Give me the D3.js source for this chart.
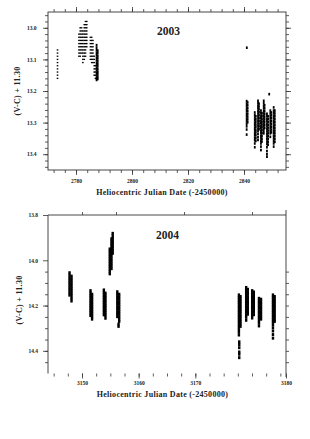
<!DOCTYPE html>
<html>
<head>
<meta charset="utf-8">
<script src="https://cdn.jsdelivr.net/npm/d3@7"></script>
<style>
body { margin: 0; background: #fff; }
svg text { font-family: "Liberation Serif", "DejaVu Serif", serif; font-weight: bold; fill: #222; }
</style>
</head>
<body>
<div id="chart"></div>
<script>
// Ticks__________________________________________________________________
const yMajor2003 = [13.0, 13.1, 13.2, 13.3, 13.4];
const xMajor2003 = [2780, 2800, 2820, 2840];
const yMajor2004 = [13.8, 14.0, 14.2, 14.4];
const xMajor2004 = [3150, 3160, 3170, 3186];
const xLabels2004 = ['3150', '3160', '3170', '3180'];
const xTop2004 = [3150, 3156, 3168, 3180];

// Data: [HJD - 2450000, [(V-C) + 11.30, ...]] one column per group of points
// quantised (0.01 mag) nights, drawn as small dots
const dots2003 = [
  [2773.4, [13.07, 13.08, 13.09, 13.10, 13.11, 13.12, 13.13, 13.14, 13.15, 13.16]],
  [2781.05, [13.02, 13.03, 13.04, 13.05, 13.06, 13.07, 13.08, 13.09]],
  [2781.5, [13.00, 13.01, 13.02, 13.03, 13.04, 13.05, 13.06, 13.07, 13.08, 13.09]],
  [2782.0, [13.00, 13.01, 13.02, 13.03, 13.04, 13.05, 13.06, 13.07, 13.08]],
  [2782.45, [13.01, 13.02, 13.03, 13.04, 13.05, 13.06, 13.07, 13.08, 13.09, 13.10, 13.11]],
  [2782.95, [12.99, 13.00, 13.01, 13.02, 13.03, 13.04, 13.05, 13.06, 13.07, 13.08, 13.09, 13.10]],
  [2783.4, [12.98, 12.99, 13.00, 13.01, 13.02, 13.03, 13.04, 13.05, 13.06, 13.07, 13.08, 13.09]],
  [2783.85, [12.98, 12.99, 13.00, 13.01, 13.02, 13.03, 13.04, 13.05, 13.06]],
  [2785.15, [13.03, 13.04, 13.05, 13.06, 13.07, 13.08, 13.09, 13.10]],
  [2785.6, [13.03, 13.04, 13.05, 13.06, 13.07, 13.08, 13.09, 13.10, 13.11]],
  [2786.05, [13.04, 13.05, 13.06, 13.07, 13.08, 13.09, 13.10, 13.11]],
  [2786.5, [13.09, 13.10, 13.11, 13.12, 13.13, 13.14, 13.15]],
  [2786.95, [13.12, 13.13, 13.14, 13.15, 13.16]]
];
// densely sampled nights
const dense2003 = [
  [2787.35, [13.055, 13.063, 13.071, 13.079, 13.087, 13.095, 13.103, 13.111, 13.119, 13.127, 13.135, 13.143, 13.151, 13.159, 13.165]],
  [2787.75, [13.072, 13.080, 13.089, 13.097, 13.106, 13.114, 13.122, 13.131, 13.139, 13.147, 13.155, 13.162]],
  [2841.0, [13.063]],
  [2840.95, [13.232, 13.240, 13.248, 13.256, 13.264, 13.272, 13.280, 13.288, 13.296, 13.304, 13.312, 13.322, 13.338]],
  [2841.3, [13.236, 13.245, 13.254, 13.263, 13.272, 13.281, 13.290, 13.299]],
  [2843.85, [13.268, 13.276, 13.284, 13.292, 13.300, 13.308, 13.316, 13.324, 13.332, 13.340, 13.348, 13.356, 13.366, 13.378]],
  [2844.2, [13.280, 13.289, 13.297, 13.306, 13.314, 13.323, 13.331, 13.340, 13.349, 13.358]],
  [2845.0, [13.231, 13.239, 13.247, 13.255, 13.263, 13.271, 13.279, 13.287, 13.295, 13.303, 13.311, 13.319, 13.327, 13.336, 13.346, 13.355]],
  [2845.35, [13.240, 13.249, 13.258, 13.267, 13.276, 13.285, 13.294, 13.303, 13.312, 13.321]],
  [2846.05, [13.262, 13.270, 13.278, 13.286, 13.294, 13.302, 13.310, 13.318, 13.326, 13.334, 13.342, 13.350, 13.358, 13.366, 13.376, 13.387]],
  [2846.4, [13.270, 13.279, 13.288, 13.297, 13.306, 13.315, 13.324, 13.333, 13.342, 13.351, 13.360]],
  [2847.05, [13.231, 13.239, 13.247, 13.255, 13.263, 13.271, 13.279, 13.287, 13.295, 13.303, 13.311, 13.319, 13.327, 13.334]],
  [2847.35, [13.245, 13.254, 13.263, 13.272, 13.281, 13.290, 13.299, 13.308, 13.317]],
  [2848.2, [13.272, 13.280, 13.288, 13.296, 13.304, 13.312, 13.320, 13.328, 13.336, 13.344, 13.352, 13.360, 13.368, 13.378, 13.390, 13.400, 13.408]],
  [2848.6, [13.280, 13.289, 13.298, 13.307, 13.316, 13.325, 13.334, 13.343, 13.352, 13.361, 13.370]],
  [2849.0, [13.21]],
  [2849.4, [13.262, 13.270, 13.278, 13.286, 13.294, 13.302, 13.310, 13.318, 13.326, 13.334, 13.345]],
  [2849.75, [13.268, 13.277, 13.286, 13.295, 13.304, 13.313, 13.322, 13.331]],
  [2850.6, [13.252, 13.262, 13.270, 13.278, 13.286, 13.294, 13.302, 13.310, 13.318, 13.326, 13.334, 13.342, 13.350, 13.358, 13.366, 13.376]],
  [2851.0, [13.262, 13.271, 13.280, 13.289, 13.298, 13.307, 13.316, 13.325, 13.334, 13.343, 13.352, 13.361]]
];
const dense2004 = [
  [3147.8, [14.055, 14.066, 14.077, 14.088, 14.099, 14.110, 14.121, 14.132, 14.143, 14.154]],
  [3148.15, [14.070, 14.081, 14.092, 14.103, 14.114, 14.125, 14.136, 14.147, 14.158, 14.169, 14.180]],
  [3151.5, [14.134, 14.145, 14.156, 14.167, 14.178, 14.189, 14.200, 14.211, 14.222, 14.233, 14.244]],
  [3151.78, [14.150, 14.161, 14.172, 14.183, 14.194, 14.205, 14.216, 14.227, 14.238, 14.249, 14.260]],
  [3153.86, [14.131, 14.142, 14.153, 14.164, 14.175, 14.186, 14.197, 14.208, 14.219, 14.230, 14.241]],
  [3154.14, [14.145, 14.156, 14.167, 14.178, 14.189, 14.200, 14.211, 14.222, 14.233, 14.244, 14.256]],
  [3154.9, [13.950, 13.961, 13.972, 13.983, 13.994, 14.005, 14.016, 14.027, 14.038, 14.049, 14.060]],
  [3155.2, [13.905, 13.916, 13.927, 13.938, 13.949, 13.960, 13.971, 13.982, 13.993, 14.004, 14.015, 14.026, 14.037]],
  [3155.42, [13.881, 13.892, 13.903, 13.914, 13.925, 13.936, 13.947, 13.958, 13.969]],
  [3156.23, [14.139, 14.150, 14.161, 14.172, 14.183, 14.194, 14.205, 14.216, 14.227, 14.238, 14.249]],
  [3156.56, [14.150, 14.161, 14.172, 14.183, 14.194, 14.205, 14.216, 14.227, 14.238, 14.249, 14.260, 14.270]],
  [3156.45, [14.282, 14.292]],
  [3177.69, [14.153, 14.164, 14.175, 14.186, 14.197, 14.208, 14.219, 14.230, 14.241, 14.252, 14.263, 14.274, 14.285, 14.296, 14.307, 14.318, 14.330]],
  [3177.97, [14.160, 14.171, 14.182, 14.193, 14.204, 14.215, 14.226, 14.237, 14.248, 14.259, 14.270, 14.281, 14.292]],
  [3177.75, [14.360, 14.372, 14.386, 14.405, 14.415, 14.430]],
  [3178.97, [14.120, 14.131, 14.142, 14.153, 14.164, 14.175, 14.186, 14.197, 14.208, 14.219, 14.230, 14.241, 14.252, 14.265]],
  [3179.26, [14.128, 14.139, 14.150, 14.161, 14.172, 14.183, 14.194, 14.205, 14.216, 14.227, 14.238]],
  [3180.03, [14.134, 14.145, 14.156, 14.167, 14.178, 14.189, 14.200, 14.211, 14.222, 14.233, 14.244, 14.255]],
  [3180.32, [14.140, 14.151, 14.162, 14.173, 14.184, 14.195, 14.206, 14.217, 14.228, 14.240]],
  [3181.23, [14.168, 14.179, 14.190, 14.201, 14.212, 14.223, 14.234, 14.245, 14.256, 14.267, 14.278, 14.290]],
  [3181.59, [14.172, 14.183, 14.194, 14.205, 14.216, 14.227, 14.238, 14.249, 14.260]],
  [3183.7, [14.153, 14.164, 14.175, 14.186, 14.197, 14.208, 14.219, 14.230, 14.241, 14.252, 14.263, 14.274, 14.285, 14.298, 14.312, 14.328, 14.344]],
  [3184.0, [14.160, 14.171, 14.182, 14.193, 14.204, 14.215, 14.226, 14.237, 14.248, 14.259, 14.270]]
];

// SVG____________________________________________________________________
const svg = d3.select('#chart').append('svg').attr('width', 310).attr('height', 439);
const left = 48, right = 286;

const flatten = cols => cols.flatMap(([jd, mags]) => mags.map(m => [jd, m]));

function styleAxis(sel) {
  sel.select('.domain').remove();
  sel.attr('font-family', null).attr('font-size', null);
  sel.selectAll('line').attr('stroke', '#333').attr('stroke-width', 0.8);
  sel.selectAll('text').attr('font-size', 5.5).attr('fill', '#222');
}

function addAxis(axis, tx, ty) {
  return svg.append('g').attr('transform', `translate(${tx},${ty})`).call(axis).call(styleAxis);
}

function drawMarks(x, y, pts, w, h) {
  svg.append('g').selectAll('rect').data(pts).enter().append('rect')
    .attr('x', d => x(d[0]) - w / 2)
    .attr('y', d => y(d[1]) - h / 2)
    .attr('width', w).attr('height', h)
    .attr('fill', '#000');
}

// Panel 2003_____________________________________________________________
const x1 = d3.scaleLinear().domain([2770, 2855]).range([left, right]);
const y1 = d3.scaleLinear().domain([12.95, 13.45]).range([12, 170]);
const yMinor1 = d3.range(12.96, 13.45, 0.02);
const xMinor1 = d3.range(2772, 2855, 4);

svg.append('rect').attr('x', left).attr('y', 12).attr('width', right - left).attr('height', 158)
  .attr('fill', 'none').attr('stroke', '#333').attr('stroke-width', 0.9);

addAxis(d3.axisLeft(y1).tickValues(yMinor1).tickSize(3).tickFormat(''), left, 0);
addAxis(d3.axisLeft(y1).tickValues(yMajor2003).tickSize(5).tickPadding(6.5).tickFormat(d3.format('.1f')), left, 0);
addAxis(d3.axisRight(y1).tickValues(yMinor1).tickSize(3).tickFormat(''), right, 0);
addAxis(d3.axisRight(y1).tickValues(yMajor2003).tickSize(5).tickFormat(''), right, 0);
addAxis(d3.axisTop(x1).tickValues(xMinor1).tickSize(3).tickFormat(''), 0, 12);
addAxis(d3.axisTop(x1).tickValues(xMajor2003).tickSize(5).tickFormat(''), 0, 12);
addAxis(d3.axisBottom(x1).tickValues(xMinor1).tickSize(3).tickFormat(''), 0, 170);
addAxis(d3.axisBottom(x1).tickValues(xMajor2003).tickSize(5).tickPadding(4.5).tickFormat(d3.format('d')), 0, 170);

drawMarks(x1, y1, flatten(dots2003), 1.6, 1.3);
drawMarks(x1, y1, flatten(dense2003), 1.8, 2.6);

svg.append('text').attr('x', 168.5).attr('y', 35).attr('text-anchor', 'middle')
  .attr('font-size', 11.5).text('2003');
svg.append('text').attr('x', 162).attr('y', 195).attr('text-anchor', 'middle')
  .attr('font-size', 8).attr('letter-spacing', 0.3).text('Heliocentric Julian Date (-2450000)');
svg.append('text').attr('transform', 'translate(20,91) rotate(-90)').attr('text-anchor', 'middle')
  .attr('font-size', 8).attr('letter-spacing', 0.3).text('(V-C) + 11.30');

// Panel 2004_____________________________________________________________
const x2 = d3.scaleLinear().domain([3144, 3186]).range([left, right]);
const y2 = d3.scaleLinear().domain([13.8, 14.5]).range([215, 373.5]);
const yMinor2 = d3.range(14.05, 14.49, 0.05);
const xMinor2 = d3.range(3145, 3186, 2.5);

svg.append('path').attr('d', `M${left},373.5V215H${right}`)
  .attr('fill', 'none').attr('stroke', '#333').attr('stroke-width', 0.9);
svg.append('line').attr('x1', right).attr('x2', right).attr('y1', 210).attr('y2', 377)
  .attr('stroke', '#333').attr('stroke-width', 0.9);

addAxis(d3.axisLeft(y2).tickValues(yMinor2).tickSize(3).tickFormat(''), left, 0);
addAxis(d3.axisLeft(y2).tickValues(yMajor2004).tickSize(5).tickPadding(5).tickFormat(d3.format('.1f')), left, 0);
addAxis(d3.axisRight(y2).tickValues(yMinor2).tickSize(3).tickFormat(''), right, 0);
addAxis(d3.axisTop(x2).tickValues(xTop2004).tickSize(3).tickFormat(''), 0, 215);
addAxis(d3.axisBottom(x2).tickValues(xMinor2).tickSize(3).tickFormat(''), 0, 373.5);
addAxis(d3.axisBottom(x2).tickValues(xMajor2004).tickSize(5).tickPadding(2.5)
  .tickFormat((d, i) => xLabels2004[i]), 0, 373.5);

drawMarks(x2, y2, flatten(dense2004), 2.4, 3);

svg.append('text').attr('x', 167.5).attr('y', 239).attr('text-anchor', 'middle')
  .attr('font-size', 11.5).text('2004');
svg.append('text').attr('x', 162.5).attr('y', 397).attr('text-anchor', 'middle')
  .attr('font-size', 8).attr('letter-spacing', 0.3).text('Heliocentric Julian Date (-2450000)');
svg.append('text').attr('transform', 'translate(21.5,300) rotate(-90)').attr('text-anchor', 'middle')
  .attr('font-size', 8).attr('letter-spacing', 0.3).text('(V-C) + 11.30');
</script>
</body>
</html>
